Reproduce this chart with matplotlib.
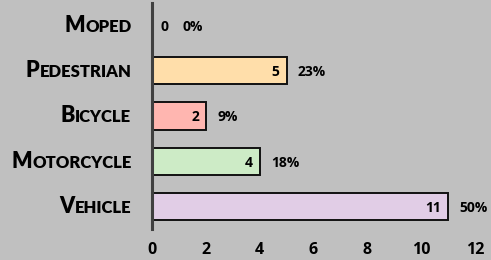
import matplotlib
matplotlib.use("Agg")
import matplotlib.pyplot as plt
from matplotlib.offsetbox import TextArea, HPacker, AnnotationBbox

categories = ["Moped", "Pedestrian", "Bicycle", "Motorcycle", "Vehicle"]
counts = [0, 5, 2, 4, 11]
percents = ["0%", "23%", "9%", "18%", "50%"]
colors = ["#ffffff", "#ffdeaa", "#ffb6b0", "#cdebc6", "#e1cde6"]
xticks = [0, 2, 4, 6, 8, 10, 12]

bg = "#c0c0c0"
fig = plt.figure(figsize=(4.91, 2.60), dpi=100, facecolor=bg)
ax = fig.add_axes([0.31, 0.118, 0.657, 0.872], facecolor=bg)

ypos = list(range(len(categories)))
ax.barh(ypos, counts, height=0.6, color=colors, edgecolor="#111111", linewidth=1.4)
ax.set_ylim(len(categories) - 0.5, -0.5)
ax.set_xlim(0, 12)

for s in ["top", "right", "bottom"]:
    ax.spines[s].set_visible(False)
ax.spines["left"].set_color("#404040")
ax.spines["left"].set_linewidth(2.2)

ax.set_xticks(xticks)
ax.set_xticklabels([str(t) for t in xticks], fontsize=11.5, fontweight="bold", family="Open Sans")
ax.tick_params(axis="x", length=0, pad=9)
ax.set_yticks([])

lbl = dict(fontsize=10, fontweight="bold", family="Open Sans", va="center")
# value labels and percentages
for y, c, p in zip(ypos, counts, percents):
    if c == 0:
        ax.annotate(str(c), (0, y), xytext=(6, -1.5), textcoords="offset points", ha="left", **lbl)
        ax.annotate(p, (0, y), xytext=(22, -1.5), textcoords="offset points", ha="left", **lbl)
    else:
        ax.annotate(str(c), (c, y), xytext=(-5, -1), textcoords="offset points", ha="right", **lbl)
        ax.annotate(p, (c, y), xytext=(8, -1), textcoords="offset points", ha="left", **lbl)

# small caps category labels
for y, name in zip(ypos, categories):
    first = TextArea(name[0].upper(), textprops=dict(fontsize=15.5, fontweight="heavy", family="Lato"))
    rest = TextArea(name[1:].upper(), textprops=dict(fontsize=12, fontweight="heavy", family="Lato"))
    box = HPacker(children=[first, rest], align="baseline", pad=0, sep=0)
    ab = AnnotationBbox(box, (0, y), xybox=(-15, 0), xycoords="data", boxcoords="offset points",
                        box_alignment=(1, 0.5), frameon=False, annotation_clip=False)
    ax.add_artist(ab)

fig.savefig("out.png", dpi=100, facecolor=bg)
